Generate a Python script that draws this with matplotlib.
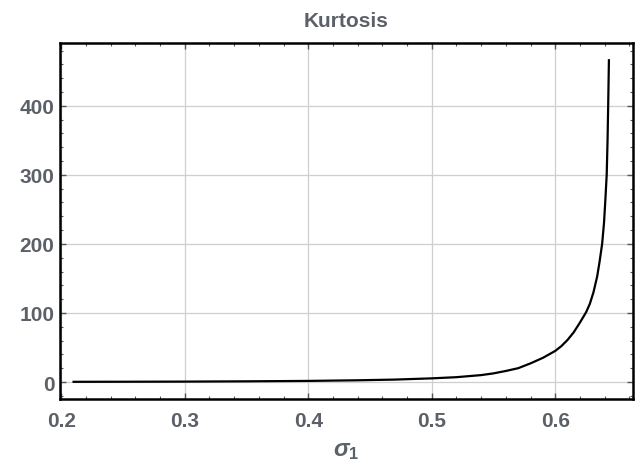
import matplotlib
matplotlib.use('Agg')
import matplotlib.pyplot as plt
from matplotlib.ticker import MultipleLocator

# values
sigma = [0.21, 0.25, 0.30, 0.35, 0.40, 0.44, 0.47, 0.50, 0.52, 0.54, 0.55,
         0.56, 0.57, 0.58, 0.59, 0.60, 0.605, 0.61, 0.615, 0.62, 0.625,
         0.628, 0.631, 0.634, 0.636, 0.638, 0.6395, 0.6405, 0.6417, 0.6424,
         0.6429, 0.6435]
kurt = [0.3, 0.4, 0.6, 1.0, 1.6, 2.5, 3.5, 5.3, 7.0, 10.0, 12.5,
        16.0, 20.0, 27.0, 35.0, 45.0, 52.0, 61.0, 72.0, 86.0, 101.0,
        113.0, 130.0, 153.0, 175.0, 200.0, 230.0, 260.0, 300.0, 350.0,
        400.0, 466.0]
xticks = [0.2, 0.3, 0.4, 0.5, 0.6]
yticks = [0, 100, 200, 300, 400]

plt.rcParams['font.family'] = ['Liberation Sans', 'DejaVu Sans']
plt.rcParams['mathtext.fontset'] = 'custom'
plt.rcParams['mathtext.it'] = 'Liberation Sans:italic:bold'
plt.rcParams['mathtext.rm'] = 'Liberation Sans:bold'
lab = '#5c6068'

fig = plt.figure(figsize=(6.35, 4.64), dpi=100)
ax = fig.add_axes([60/635, 1 - 400/464, 573/635, 356/464])

ax.plot(sigma, kurt, color='black', lw=1.6)

ax.set_xlim(0.199, 0.663)
ax.set_ylim(-24.6, 491)
ax.set_xticks(xticks)
ax.set_yticks(yticks)
ax.xaxis.set_minor_locator(MultipleLocator(0.02))
ax.yaxis.set_minor_locator(MultipleLocator(20))
ax.set_xticklabels(['%.1f' % t for t in xticks])
ax.grid(True, color='#cfcfcf', lw=0.9)

ax.tick_params(which='both', direction='in', top=True, right=True,
               color='#555555', labelcolor=lab, labelsize=15)
ax.tick_params(which='major', length=4, width=1)
ax.tick_params(which='minor', length=2, width=0.8)
for t in ax.get_xticklabels() + ax.get_yticklabels():
    t.set_fontweight('bold')
ax.tick_params(axis='x', pad=9)
ax.tick_params(axis='y', pad=4)

for s in ax.spines.values():
    s.set_linewidth(1.8)
    s.set_color('black')

ax.set_title('Kurtosis', color=lab, fontsize=15, fontweight='bold', pad=12)
ax.set_xlabel(r'$\sigma_1$', color=lab, fontsize=17, labelpad=6)

plt.savefig('out.png', dpi=100)
